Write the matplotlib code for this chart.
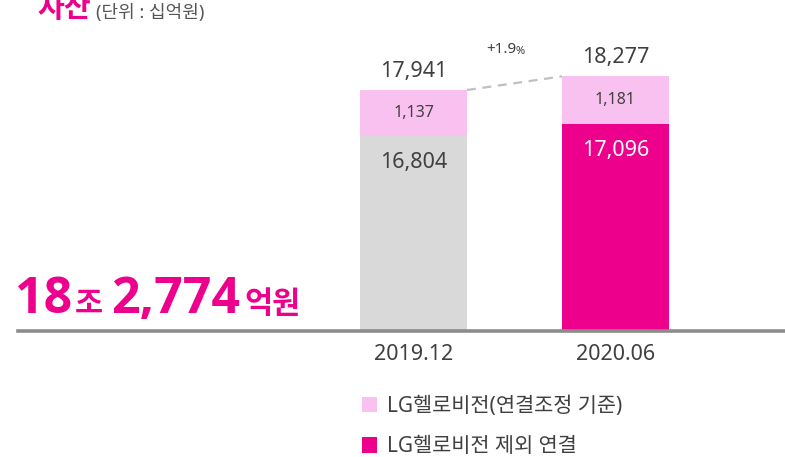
import matplotlib
matplotlib.use("Agg")
import matplotlib.pyplot as plt
from matplotlib.patches import Patch

FONTS = ['Noto Sans', 'Noto Sans CJK KR', 'DejaVu Sans']
BOLD_FONTS = ['Open Sans', 'Noto Sans CJK KR', 'DejaVu Sans']
plt.rcParams['font.family'] = FONTS

# ---- data ----
categories = ["2019.12", "2020.06"]
base_values = [16804, 17096]          # LG헬로비전 제외 연결
hello_values = [1137, 1181]           # LG헬로비전(연결조정 기준)
totals = [b + h for b, h in zip(base_values, hello_values)]
growth_label = "+1.9"
headline_parts = ["18", "조 ", "2,774", "억원"]
title_text = "자산"
unit_text = "(단위 : 십억원)"
legend_labels = ["LG헬로비전(연결조정 기준)", "LG헬로비전 제외 연결"]

MAGENTA = "#EC008C"
PINK = "#F8C1F0"
GRAY_BAR = "#D9D9D9"
DARK = "#404040"
base_colors = [GRAY_BAR, MAGENTA]
base_label_colors = [DARK, "white"]

W, H = 785, 457
fig = plt.figure(figsize=(W / 100, H / 100), dpi=100)

def fx(px):
    return px / W

def fy(py):
    return 1 - py / H

ax = fig.add_axes([fx(18), fy(331), 1 - fx(18), 331 / H])
ax.set_xlim(-1.958, 1.839)
ax.set_ylim(12000, 20160)
for s in ["top", "left", "right"]:
    ax.spines[s].set_visible(False)
ax.spines["bottom"].set_color("#8C8C8C")
ax.spines["bottom"].set_linewidth(2.6)
ax.set_yticks([])
x = list(range(len(categories)))
ax.set_xticks(x)
ax.set_xticklabels(categories, fontsize=15.5, color=DARK)
ax.tick_params(axis="x", length=0, pad=9)

width = 0.53
ax.bar(x, base_values, width=width, color=base_colors, zorder=2)
ax.bar(x, hello_values, bottom=base_values, width=width, color=PINK, zorder=2)

for i in x:
    ax.annotate(f"{totals[i]:,}", (i, totals[i]), xytext=(0, 6), textcoords="offset points",
                ha="center", va="bottom", fontsize=15.5, color=DARK)
    ax.annotate(f"{hello_values[i]:,}", (i, base_values[i] + hello_values[i] / 2),
                ha="center", va="center", fontsize=11.5, color=DARK)
    ax.annotate(f"{base_values[i]:,}", (i, base_values[i]), xytext=(0, -19), textcoords="offset points",
                ha="center", va="center", fontsize=15.5, color=base_label_colors[i])

# dashed growth connector
ax.plot([x[0] + width / 2, x[1] - width / 2], [totals[0], totals[1]],
        ls=(0, (4, 3)), color="#BFBFBF", lw=1.6, zorder=1)
mid_x = (x[0] + width / 2 + x[1] - width / 2) / 2
mid_y = (totals[0] + totals[1]) / 2
ax.annotate(growth_label, (mid_x, mid_y), xytext=(1, 24), textcoords="offset points",
            ha="right", va="center", fontsize=11, color=DARK)
ax.annotate("%", (mid_x, mid_y), xytext=(1, 23), textcoords="offset points",
            ha="left", va="center", fontsize=8, color=DARK)

# title (partly cut at the top edge, as in the reference)
fig.text(fx(37), fy(24), title_text, fontsize=21, fontweight="bold", color=MAGENTA,
         ha="left", va="bottom", family=BOLD_FONTS)
fig.text(fx(96), fy(22), unit_text, fontsize=13, color="#555555", ha="left", va="bottom")

# headline
fig.text(fx(15), fy(313), headline_parts[0], fontsize=36, fontweight="bold", color=MAGENTA,
         ha="left", va="baseline", family=BOLD_FONTS)
fig.text(fx(75), fy(313), headline_parts[1], fontsize=22, fontweight="bold", color=MAGENTA,
         ha="left", va="baseline", family=BOLD_FONTS)
fig.text(fx(111), fy(313), headline_parts[2], fontsize=36, fontweight="bold", color=MAGENTA,
         ha="left", va="baseline", family=BOLD_FONTS)
fig.text(fx(244), fy(313), headline_parts[3], fontsize=22, fontweight="bold", color=MAGENTA,
         ha="left", va="baseline", family=BOLD_FONTS)

# legend
handles = [Patch(facecolor=PINK, edgecolor="none"), Patch(facecolor=MAGENTA, edgecolor="none")]
fig.legend(handles, legend_labels, loc="upper left", bbox_to_anchor=(fx(347), fy(381)),
           frameon=False, fontsize=15, handlelength=0.75, handleheight=0.75,
           handletextpad=0.45, labelspacing=0.95, labelcolor=DARK, borderpad=0.2)

fig.savefig("out.png", dpi=100)
